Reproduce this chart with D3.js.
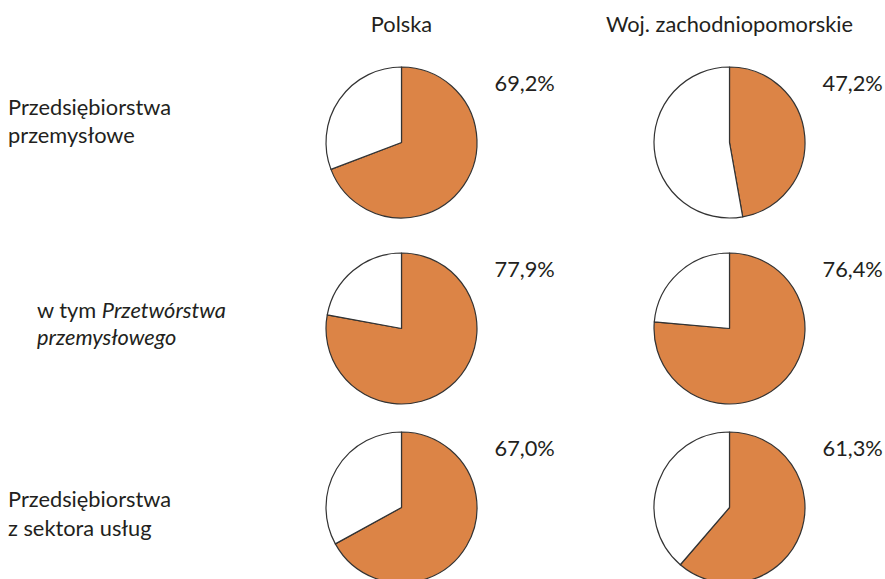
<!DOCTYPE html>
<html><head><meta charset="utf-8">
<script src="https://cdn.jsdelivr.net/npm/d3@7"></script>
<style>body{margin:0;background:#fff}text{font-family:Lato,"Open Sans",sans-serif;fill:#231f20}</style>
</head><body>
<script>
const columns = ["Polska", "Woj. zachodniopomorskie"];
const rowLabels = [
  [{t:"Przedsiębiorstwa"},{t:"przemysłowe"}],
  [{t:"w tym ", i:"Przetwórstwa"},{i:"przemysłowego"}],
  [{t:"Przedsiębiorstwa"},{t:"z sektora usług"}]
];
const polskaValues = [69.2, 77.9, 67.0];
const regionValues = [47.2, 76.4, 61.3];
const valueLabels = [["69,2%","47,2%"],["77,9%","76,4%"],["67,0%","61,3%"]];

const W = 885, H = 579;
const svg = d3.select("body").append("svg").attr("width", W).attr("height", H);

const colX = d3.scaleOrdinal().domain(columns).range([401.5, 729.5]);
const rowY = d3.scaleOrdinal().domain([0,1,2]).range([142.5, 328.5, 507.5]);
const R = 75.5;
const fs = 21.8;

columns.forEach(c => {
  svg.append("text").attr("x", colX(c)).attr("y", 32).attr("text-anchor","middle")
    .style("font-size", fs+"px").text(c);
});

const labelX = [8, 37, 8];
const labelY = [[115,143],[318,345],[507,536]];
rowLabels.forEach((lines, r) => {
  lines.forEach((ln, k) => {
    const t = svg.append("text").attr("x", labelX[r]).attr("y", labelY[r][k]).style("font-size", fs+"px");
    if (ln.t) t.append("tspan").text(ln.t);
    if (ln.i) t.append("tspan").style("font-style","italic").text(ln.i);
  });
});

const pie = d3.pie().sort(null).value(d => d);
const arc = d3.arc().innerRadius(0).outerRadius(R);
const series = [polskaValues, regionValues];
series.forEach((vals, ci) => {
  vals.forEach((v, r) => {
    const g = svg.append("g").attr("transform", `translate(${colX(columns[ci])},${rowY(r)})`);
    g.selectAll("path").data(pie([v, 100 - v])).join("path")
      .attr("d", arc)
      .attr("fill", (d, i) => i === 0 ? "#dc8446" : "#ffffff")
      .attr("stroke", "#333")
      .attr("stroke-width", 1.2)
      .attr("stroke-linejoin", "round");
    svg.append("text").attr("x", colX(columns[ci]) + 93).attr("y", rowY(r) - R + 24)
      .style("font-size", fs+"px").text(valueLabels[r][ci]);
  });
});
</script>
</body></html>
